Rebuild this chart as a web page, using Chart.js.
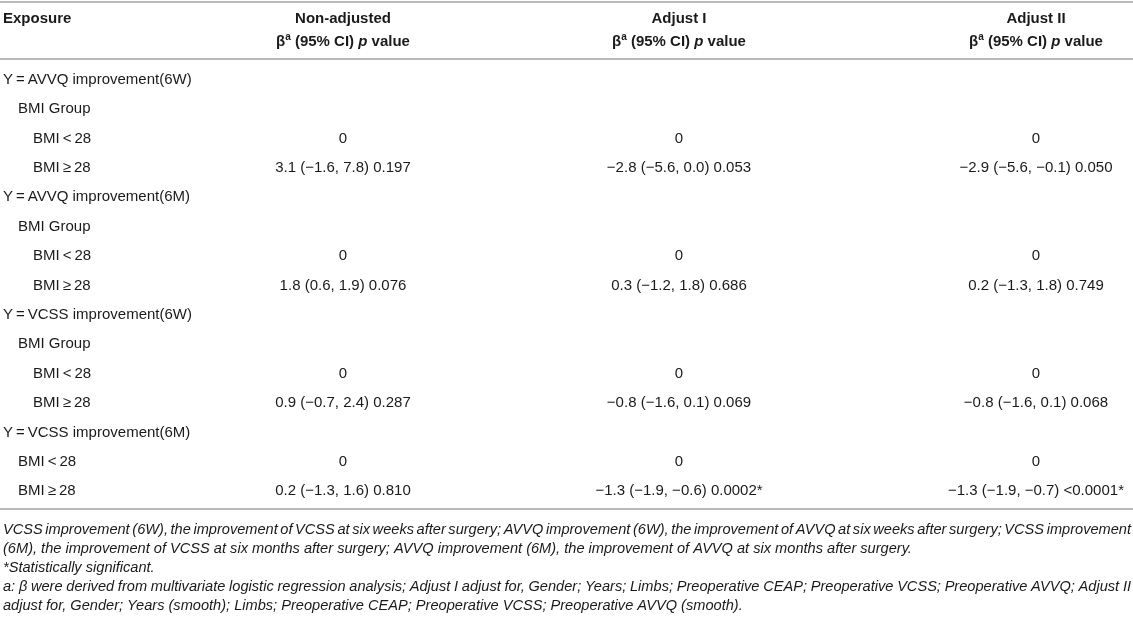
<!DOCTYPE html>
<html>
<head>
<meta charset="utf-8">
<script src="https://cdn.jsdelivr.net/npm/chart.js@4.4.1/dist/chart.umd.min.js"></script>
<style>
  html, body { margin: 0; padding: 0; background: #fff; }
  #wrap { width: 1133px; height: 620px; position: relative; }
</style>
</head>
<body>
<div id="wrap"><canvas id="tbl"></canvas></div>
<script>
// table content
const columns = ['Exposure', 'Non-adjusted', 'Adjust I', 'Adjust II'];

const rowLabels = [
  'Y\u2009=\u2009AVVQ improvement(6W)', 'BMI Group', 'BMI\u2009<\u200928', 'BMI\u2009\u2265\u200928',
  'Y\u2009=\u2009AVVQ improvement(6M)', 'BMI Group', 'BMI\u2009<\u200928', 'BMI\u2009\u2265\u200928',
  'Y\u2009=\u2009VCSS improvement(6W)', 'BMI Group', 'BMI\u2009<\u200928', 'BMI\u2009\u2265\u200928',
  'Y\u2009=\u2009VCSS improvement(6M)', 'BMI\u2009<\u200928', 'BMI\u2009\u2265\u200928'
];
const rowIndent = [0, 1, 2, 2, 0, 1, 2, 2, 0, 1, 2, 2, 0, 1, 1];

const nonAdjusted = [
  '', '', '0', '3.1 (\u22121.6, 7.8) 0.197',
  '', '', '0', '1.8 (0.6, 1.9) 0.076',
  '', '', '0', '0.9 (\u22120.7, 2.4) 0.287',
  '', '0', '0.2 (\u22121.3, 1.6) 0.810'
];
const adjustI = [
  '', '', '0', '\u22122.8 (\u22125.6, 0.0) 0.053',
  '', '', '0', '0.3 (\u22121.2, 1.8) 0.686',
  '', '', '0', '\u22120.8 (\u22121.6, 0.1) 0.069',
  '', '0', '\u22121.3 (\u22121.9, \u22120.6) 0.0002*'
];
const adjustII = [
  '', '', '0', '\u22122.9 (\u22125.6, \u22120.1) 0.050',
  '', '', '0', '0.2 (\u22121.3, 1.8) 0.749',
  '', '', '0', '\u22120.8 (\u22121.6, 0.1) 0.068',
  '', '0', '\u22121.3 (\u22121.9, \u22120.7) <0.0001*'
];

// footnote lines, justify flag for lines that wrap inside a paragraph
const footnoteLines = [
  'VCSS improvement (6W), the improvement of VCSS at six weeks after surgery; AVVQ improvement (6W), the improvement of AVVQ at six weeks after surgery; VCSS improvement',
  '(6M), the improvement of VCSS at six months after surgery; AVVQ improvement (6M), the improvement of AVVQ at six months after surgery.',
  '*Statistically significant.',
  'a: \u03b2 were derived from multivariate logistic regression analysis; Adjust I adjust for, Gender; Years; Limbs; Preoperative CEAP; Preoperative VCSS; Preoperative AVVQ; Adjust II',
  'adjust for, Gender; Years (smooth); Limbs; Preoperative CEAP; Preoperative VCSS; Preoperative AVVQ (smooth).'
];
const footnoteJustify = [true, false, false, true, false];

// layout
const W = 1133;
const colAnchor = [3, 343, 679, 1036];
const indentStep = 15;
const FONT = '"Liberation Sans", Arial, Helvetica, sans-serif';
const TEXT = '#1a1a1a';
const RULE = '#a3a3a3';

const cellSets = [
  { text: rowLabels, align: 'left', col: 0 },
  { text: nonAdjusted, align: 'center', col: 1 },
  { text: adjustI, align: 'center', col: 2 },
  { text: adjustII, align: 'center', col: 3 }
];

const datasets = cellSets.map((c) => ({
  label: columns[c.col],
  cellText: c.text,
  cellAlign: c.align,
  data: c.text.map((t, i) => ({
    x: colAnchor[c.col] + (c.col === 0 ? rowIndent[i] * indentStep : 0),
    y: i
  })),
  pointRadius: 0,
  showLine: false
}));

function rule(ctx, y) {
  ctx.save();
  ctx.strokeStyle = RULE;
  ctx.lineWidth = 1.5;
  ctx.beginPath();
  ctx.moveTo(0, y);
  ctx.lineTo(W, y);
  ctx.stroke();
  ctx.restore();
}

// header second line: beta, superscript a, (95% CI), italic p, value
function drawStatHeader(ctx, cx, y) {
  const parts = [
    { t: '\u03b2', f: 'bold 15px ' + FONT, dy: 0 },
    { t: 'a', f: 'bold 10px ' + FONT, dy: -5 },
    { t: ' (95% CI) ', f: 'bold 15px ' + FONT, dy: 0 },
    { t: 'p', f: 'italic bold 15px ' + FONT, dy: 0 },
    { t: ' value', f: 'bold 15px ' + FONT, dy: 0 }
  ];
  let total = 0;
  parts.forEach((p) => { ctx.font = p.f; p.w = ctx.measureText(p.t).width; total += p.w; });
  let x = cx - total / 2;
  ctx.textAlign = 'left';
  parts.forEach((p) => {
    ctx.font = p.f;
    ctx.fillText(p.t, x, y + p.dy);
    x += p.w;
  });
}

function drawLine(ctx, text, x, y, width, justify) {
  if (!justify) { ctx.fillText(text, x, y); return; }
  const words = text.split(' ');
  const wordsW = words.reduce((s, w) => s + ctx.measureText(w).width, 0);
  const gap = (width - wordsW) / (words.length - 1);
  let cx = x;
  words.forEach((w) => {
    ctx.fillText(w, cx, y);
    cx += ctx.measureText(w).width + gap;
  });
}

const tablePlugin = {
  id: 'tablePlugin',
  afterDatasetsDraw(chart) {
    const ctx = chart.ctx;
    const area = chart.chartArea;
    ctx.save();
    ctx.fillStyle = TEXT;
    ctx.textBaseline = 'middle';

    // body cells, placed by the scales
    chart.data.datasets.forEach((ds, d) => {
      const meta = chart.getDatasetMeta(d);
      ctx.font = '15px ' + FONT;
      ctx.textAlign = ds.cellAlign;
      meta.data.forEach((pt, i) => {
        const t = ds.cellText[i];
        if (t) ctx.fillText(t, pt.x, pt.y + 1);
      });
    });

    // header
    rule(ctx, 2);
    chart.data.datasets.forEach((ds, d) => {
      const x = chart.getDatasetMeta(d).data[0].x;
      ctx.font = 'bold 15px ' + FONT;
      ctx.textAlign = d === 0 ? 'left' : 'center';
      ctx.fillText(ds.label, d === 0 ? chart.scales.x.getPixelForValue(colAnchor[0]) : x, 19);
      if (d > 0) drawStatHeader(ctx, x, 42);
    });
    rule(ctx, 59);

    // bottom rule and footnotes
    const bottom = area.bottom + 4;
    rule(ctx, bottom);
    ctx.font = 'italic 14.6px ' + FONT;
    ctx.textAlign = 'left';
    footnoteLines.forEach((line, i) => {
      drawLine(ctx, line, 3, bottom + 21 + i * 19, W - 5, footnoteJustify[i]);
    });
    ctx.restore();
  }
};

new Chart(document.getElementById('tbl'), {
  type: 'scatter',
  data: { datasets: datasets },
  options: {
    responsive: true,
    maintainAspectRatio: false,
    animation: false,
    events: [],
    layout: { padding: { top: 64, bottom: 115, left: 0, right: 0 } },
    plugins: { legend: { display: false }, tooltip: { enabled: false } },
    scales: {
      x: { type: 'linear', min: 0, max: W, display: false },
      y: { type: 'linear', min: -0.5, max: rowLabels.length - 0.5, reverse: true, display: false }
    }
  },
  plugins: [tablePlugin]
});
</script>
</body>
</html>
